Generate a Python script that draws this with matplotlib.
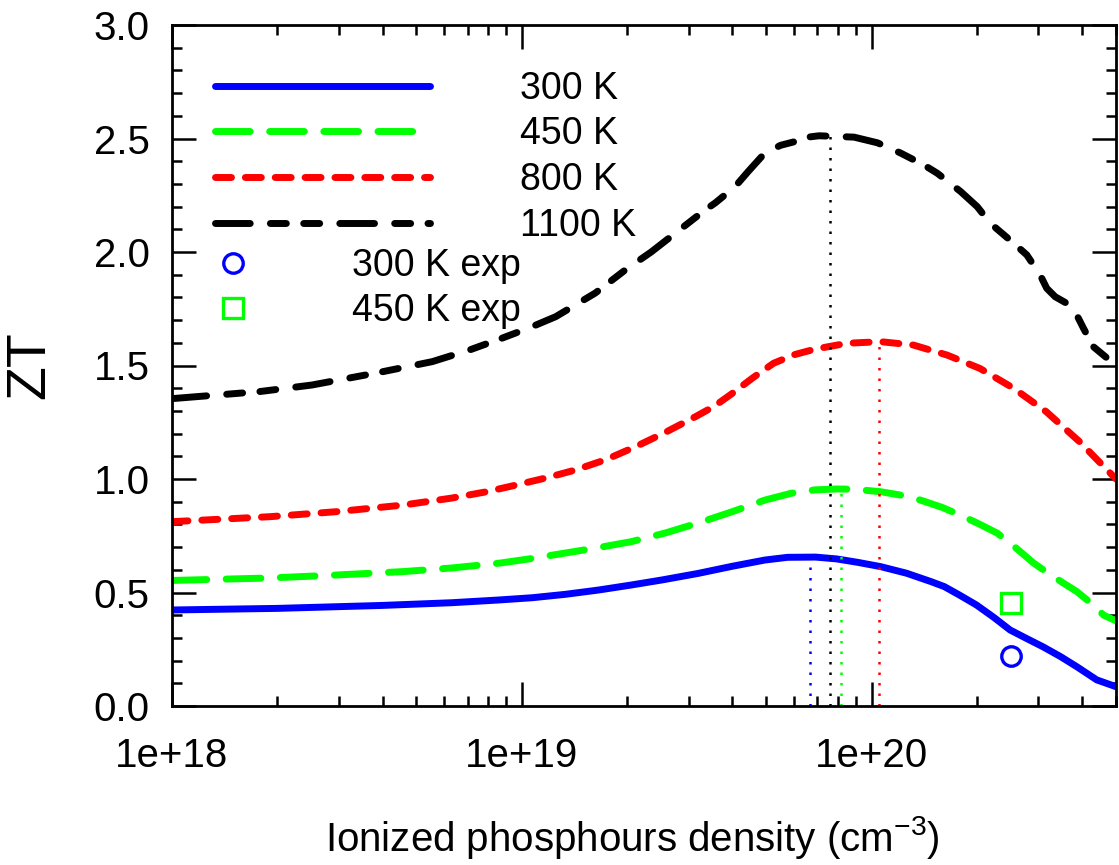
import numpy as np
import matplotlib
matplotlib.use("Agg")
import matplotlib.pyplot as plt
from matplotlib.ticker import FixedLocator, FixedFormatter, MultipleLocator, NullFormatter

plt.rcParams['font.family'] = ['Liberation Sans', 'DejaVu Sans']
plt.rcParams['mathtext.default'] = 'regular'

# ---- data: log10 of ionized density (cm^-3) and ZT ----
logn_300 = [18.0, 18.3, 18.6, 18.8, 18.934, 19.03, 19.125, 19.22, 19.313, 19.40, 19.504, 19.60, 19.695,
            19.76, 19.84, 19.90, 19.96, 20.026, 20.10, 20.17, 20.208, 20.25, 20.30, 20.35, 20.396,
            20.44, 20.49, 20.54, 20.587, 20.644, 20.699]
zt_300 = [0.423, 0.430, 0.443, 0.455, 0.467, 0.477, 0.492, 0.511, 0.533, 0.555, 0.584, 0.615, 0.643,
          0.655, 0.656, 0.648, 0.633, 0.614, 0.585, 0.548, 0.526, 0.49, 0.445, 0.39, 0.335,
          0.30, 0.261, 0.218, 0.173, 0.115, 0.085]

logn_450 = [18.0, 18.28, 18.47, 18.66, 18.80, 18.94, 19.03, 19.125, 19.22, 19.313, 19.41, 19.504, 19.60, 19.695,
            19.77, 19.837, 19.90, 19.95, 20.026, 20.08, 20.14, 20.20, 20.254, 20.31,
            20.36, 20.41, 20.464, 20.51, 20.55, 20.587, 20.63, 20.664, 20.699]
zt_450 = [0.553, 0.564, 0.577, 0.592, 0.608, 0.63, 0.650, 0.674, 0.698, 0.724, 0.762, 0.806, 0.855, 0.907,
          0.937, 0.952, 0.956, 0.955, 0.944, 0.93, 0.907, 0.876, 0.841, 0.80,
          0.761, 0.70, 0.629, 0.58, 0.54, 0.504, 0.45, 0.40, 0.375]

logn_800 = [18.0, 18.28, 18.47, 18.66, 18.80, 18.90, 18.98, 19.07, 19.154, 19.24, 19.325,
            19.41, 19.496, 19.55, 19.60, 19.66, 19.72, 19.78, 19.838, 19.93, 20.026,
            20.12, 20.216, 20.31, 20.407, 20.50, 20.595, 20.699]
zt_800 = [0.812, 0.834, 0.856, 0.885, 0.916, 0.944, 0.972, 1.005, 1.040, 1.085, 1.142,
          1.205, 1.274, 1.32, 1.375, 1.445, 1.51, 1.548, 1.572, 1.598, 1.605,
          1.590, 1.546, 1.487, 1.399, 1.296, 1.164, 1.0]

logn_1100 = [18.0, 18.25, 18.40, 18.584, 18.744, 18.85, 18.943, 19.02, 19.097, 19.21, 19.296,
             19.37, 19.44, 19.524, 19.553, 19.61, 19.647, 19.695, 19.74, 19.78, 19.818,
             19.85, 19.95, 20.017, 20.083, 20.15, 20.188, 20.255, 20.302, 20.34, 20.407,
             20.444, 20.482, 20.501, 20.525, 20.558, 20.582, 20.606, 20.634, 20.663, 20.699]
zt_1100 = [1.354, 1.385, 1.414, 1.467, 1.517, 1.568, 1.620, 1.665, 1.715, 1.819, 1.921,
           2.00, 2.084, 2.185, 2.216, 2.288, 2.354, 2.436, 2.47, 2.486, 2.506,
           2.512, 2.506, 2.481, 2.436, 2.383, 2.347, 2.266, 2.2, 2.126, 2.038,
           1.987, 1.899, 1.84, 1.803, 1.774, 1.737, 1.664, 1.583, 1.546, 1.50]

# optimum-density markers (vertical dotted lines): 300, 450, 800, 1100 K
opt_n = [6.65e19, 8.2e19, 1.05e20, 7.6e19]
opt_zt = [0.655, 0.955, 1.60, 2.51]

# experimental points
exp_n_300 = [2.5e20]
exp_zt_300 = [0.22]
exp_n_450 = [2.5e20]
exp_zt_450 = [0.455]

labels = ['300 K', '450 K', '800 K', '1100 K']
exp_labels = ['300 K exp', '450 K exp']
xtick_vals = [1e18, 1e19, 1e20]
xtick_labels = ['1e+18', '1e+19', '1e+20']

colors = ['#0000ff', '#00ff00', '#ff0000', '#000000']

fig = plt.figure(figsize=(11.19, 8.65), dpi=100)
ax = fig.add_axes([172/1119, 1 - 706/865, 944/1119, 681/865])

lw = 5.0
styles = ['-', (0, (5.0, 2.8)), (0, (2.3, 2.0)), (0, (5.0, 2.9, 2.3, 2.5, 2.3, 2.9))]
series = [(logn_300, zt_300), (logn_450, zt_450), (logn_800, zt_800), (logn_1100, zt_1100)]
handles = []
for (lx, ys), c, ls, lab in zip(series, colors, styles, labels):
    xs = np.power(10.0, np.asarray(lx, dtype=float))
    h, = ax.plot(xs, ys, color=c, lw=lw, ls=ls, dash_capstyle='round',
                 solid_capstyle='round', solid_joinstyle='round', label=lab)
    handles.append(h)

for xv, yv, c in zip(opt_n, opt_zt, colors):
    ax.plot([xv, xv], [0, yv], color=c, lw=1.8, ls=(0, (1, 3.2)))

m1, = ax.plot(exp_n_300, exp_zt_300, ls='none', marker='o', ms=14, mfc='none',
              mec='#0000ff', mew=2.4, label=exp_labels[0])
m2, = ax.plot(exp_n_450, exp_zt_450, ls='none', marker='s', ms=14, mfc='none',
              mec='#00ff00', mew=2.4, label=exp_labels[1])

ax.set_xscale('log')
ax.set_xlim(1e18, 5e20)
ax.set_ylim(0, 3.0)

ax.xaxis.set_major_locator(FixedLocator(xtick_vals))
ax.xaxis.set_major_formatter(FixedFormatter(xtick_labels))
minors = [float(m) * 10.0**e for e in (18, 19, 20) for m in range(2, 10) if m * 10.0**e <= 5e20]
ax.xaxis.set_minor_locator(FixedLocator(minors))
ax.xaxis.set_minor_formatter(NullFormatter())
ax.yaxis.set_major_locator(MultipleLocator(0.5))
ax.yaxis.set_minor_locator(MultipleLocator(0.1))
ax.yaxis.set_major_formatter(plt.FuncFormatter(lambda v, p: f'{v:.1f}'))

ax.tick_params(which='both', direction='in', top=True, right=True, width=1.8)
ax.tick_params(which='major', length=17, labelsize=29)
ax.tick_params(axis='y', which='major', pad=16)
ax.tick_params(axis='x', which='major', pad=22)
ax.tick_params(which='minor', length=7.5)
for s in ax.spines.values():
    s.set_linewidth(2.0)

ax.set_xlabel('Ionized phosphours density (cm$^{-3}$)', fontsize=29)
ax.xaxis.set_label_coords(0.488, -0.158)
ax.set_ylabel('ZT', fontsize=40)
ax.yaxis.set_label_coords(-0.123, 0.5)

leg1 = ax.legend(handles=handles, labels=labels, loc='upper left',
                 bbox_to_anchor=(0.0455, 0.933), frameon=False, fontsize=27,
                 handlelength=5.73, handletextpad=2.4, labelspacing=0.26,
                 borderpad=0, borderaxespad=0)
ax.add_artist(leg1)
ax.legend(handles=[m1, m2], labels=exp_labels, loc='upper left',
          bbox_to_anchor=(0.0286, 0.672), frameon=False, fontsize=27,
          handlelength=1.84, handletextpad=2.24, labelspacing=0.24,
          borderpad=0, borderaxespad=0)

fig.savefig('out.png', dpi=100)
